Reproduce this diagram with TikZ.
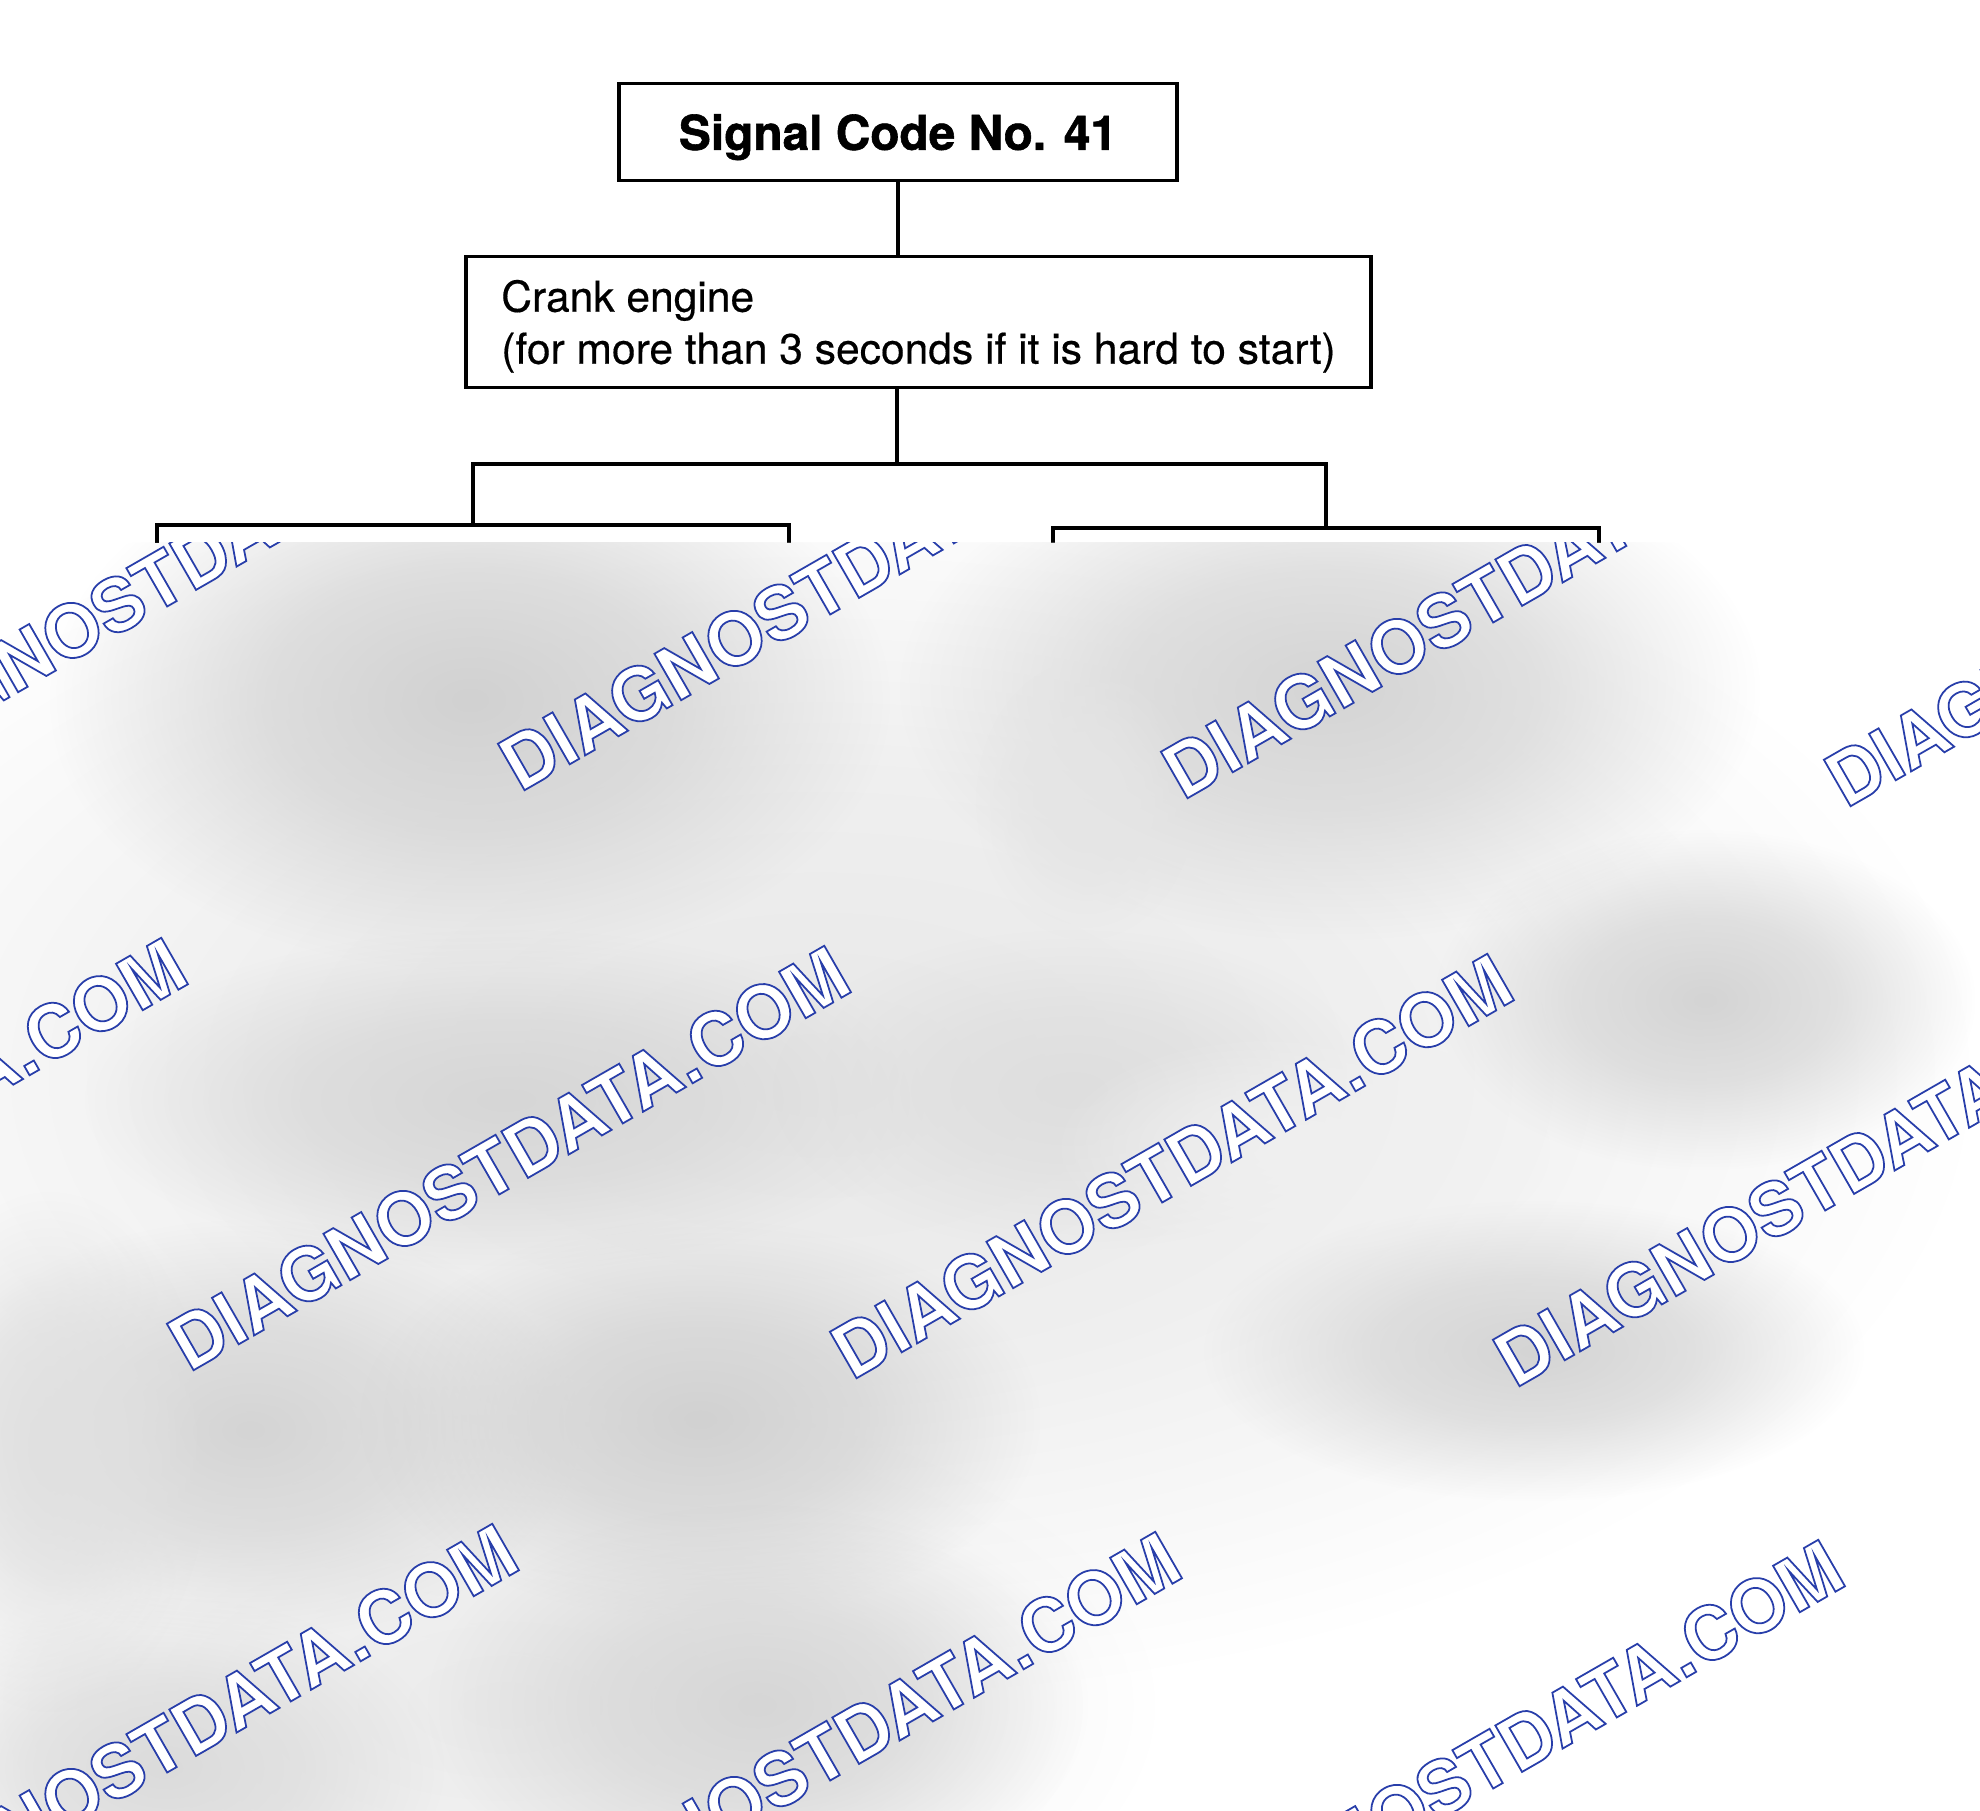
\documentclass[tikz,border=0pt]{standalone}
\usepackage{fontspec}
\setmainfont{TeX Gyre Heros}
\newfontface\titlefont{texgyreheros-bold.otf}[FakeBold=1.2]
\newfontface\bodyfont{texgyreheros-regular.otf}[FakeBold=0.4]
\usetikzlibrary{positioning,fadings}
\definecolor{wmblue}{RGB}{40,62,170}
\newcommand\outlined[1]{\special{pdf:literal direct 2 Tr 0.5 w 0.157 0.243 0.667 RG}#1\special{pdf:literal direct 0 Tr}}
\pgfdeclareradialshading{blobshade}{\pgfpointorigin}{color(0bp)=(white);
   color(12bp)=(white!68!black); color(25bp)=(black); color(50bp)=(black)}
\tikzfading[name=blobfade, shading=blobshade]

\begin{document}
\begin{tikzpicture}
[x=0.01cm, y=-0.01cm, line width=1.1pt,
   cbox/.style={draw, rectangle, inner sep=0pt},
   titlebox/.style={cbox, text depth=0pt, font=\titlefont\fontsize{13.6}{16}\selectfont},
   stepbox/.style={cbox, align=left, font=\bodyfont\fontsize{12.1}{14.8}\selectfont},
   blob/.style={fill=black!#1, path fading=blobfade},
   wmark/.style={rotate=29.9, anchor=base west, inner sep=0pt, text=white,
      font=\bfseries\fontsize{20.9}{24}\selectfont}]
\useasboundingbox (0,0) rectangle (1980,1810);

\node[titlebox, minimum width=5.57cm, minimum height=0.97cm] (sig) at (898,132) {Signal Code No. 41};
\node[stepbox, minimum width=9.05cm, minimum height=1.31cm] (crank) at (918.5,322)
   {\rule{0pt}{11.5pt}Crank engine\\(for more than 3 seconds if it is hard to start)};
\node[cbox, anchor=north, minimum width=6.32cm, minimum height=3cm] (lbox) at (473,523) {};
\node[cbox, anchor=north, minimum width=5.46cm, minimum height=3cm] (rbox) at (1326,526) {};
\coordinate (fork) at (897,464);

\draw (sig.south) -- (sig.south |- crank.north);
\draw (crank.south -| fork) -- (fork) -| (lbox.north);
\draw (fork) -| (rbox.north);

% blurred lower part
\begin{scope}
\clip (0,543) rectangle (1980,1810);
\fill[white] (0,543) rectangle (1980,1810);
\foreach \cx/\cy/\rx/\ry/\k in {820/1075/1150/620/9, 505/1705/650/320/8,
   470/700/420/270/18, 1330/690/430/250/17,
   1086/800/110/140/10, 1705/1000/270/170/17, 505/1100/420/170/16,
   1073/1090/300/160/13, 250/1430/330/210/17, 700/1420/340/200/18,
   1534/1351/330/150/17, 758/1705/330/200/16, 164/1768/280/170/14,
   50/1452/160/260/12, 1300/1150/250/120/6}
   \fill[blob=\k] (\cx,\cy) ellipse [x radius=\rx, y radius=\ry];
\foreach \sx/\sy [count=\r] in {518/794,187/1374,518/1960}
   \foreach \i in {-1,0,1,2}
      \node[wmark] (wm\r\i) at (\sx+663*\i, \sy+8*\i) {\outlined{DIAGNOSTDATA.COM}};
\end{scope}
\end{tikzpicture}
\end{document}
